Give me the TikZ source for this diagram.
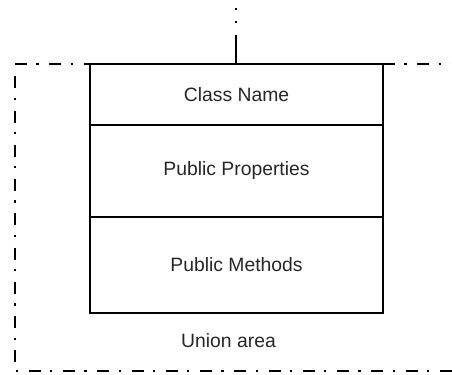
\documentclass[tikz,border=0pt]{standalone}
\usepackage{fontspec}
\setmainfont{Liberation Sans}
\usetikzlibrary{positioning,calc}

\begin{document}
\begin{tikzpicture}[
  x=0.75pt, y=-0.75pt,
  part/.style={draw, line width=1.9pt, outer sep=0pt, minimum width=219.75pt,
    font=\fontsize{14.5}{17}\selectfont, text=black!85},
  dashdot/.style={line width=1.7pt, dash pattern=on 9pt off 7pt on 1.7pt off 8pt},
  dotline/.style={line width=1.7pt, dash pattern=on 1.7pt off 8pt}
]
  \useasboundingbox (0,0) rectangle (452,374);
  % class box
  \node[part, minimum height=45.75pt] (classname) at (236.5,94.5) {Class Name};
  \node[part, minimum height=69pt, below=0pt of classname] (props) {Public Properties};
  \node[part, minimum height=72pt, below=0pt of props] (methods) {Public Methods};
  \node[font=\fontsize{14.5}{17}\selectfont, text=black!85] (union) at (228.5,341) {Union area};
  % stem above the box
  \coordinate (stem) at (236,35);
  \coordinate (stemend) at (236,4);
  \draw[line width=1.9pt] (stem) -- (classname.north -| stem);
  \draw[dotline] ($(stem)+(0,-12)$) -- (stemend);
  % union area border
  \coordinate (ul) at (15,64);
  \coordinate (ur) at (452,64);
  \coordinate (ll) at (15,371);
  \coordinate (lr) at (452,371);
  \draw[dashdot] (ul) -- (classname.north west);
  \draw[dashdot] (classname.north east) -- (ur);
  \draw[dashdot, dash phase=-4pt] ($(ul)+(0,7)$) -- (ll) -- (lr);
\end{tikzpicture}
\end{document}
